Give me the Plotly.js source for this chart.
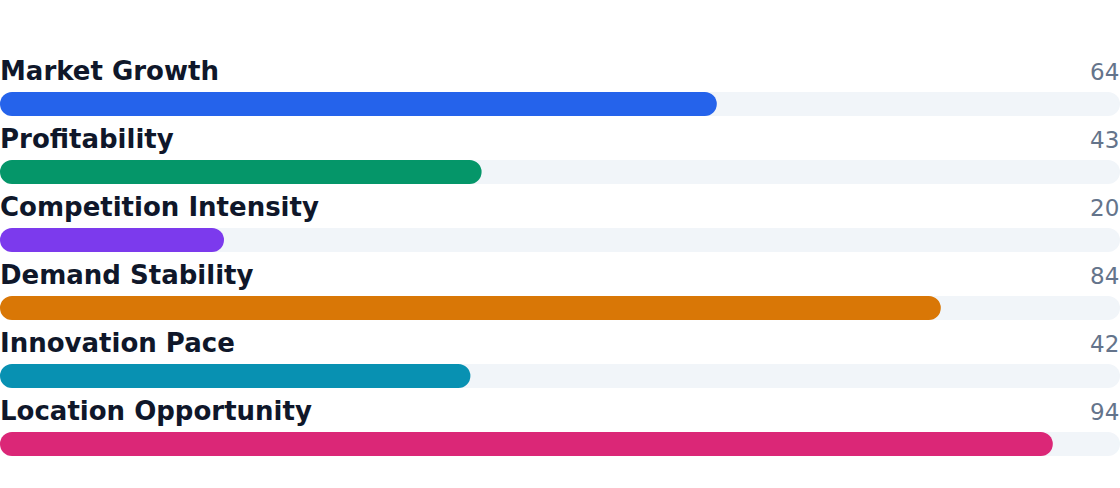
<!DOCTYPE html>
<html>
<head>
<meta charset="utf-8">
<script src="https://cdn.plot.ly/plotly-3.0.1.min.js"></script>
<style>
  html, body { margin: 0; padding: 0; background: #ffffff; }
  #chart { width: 1120px; height: 488px; }
</style>
</head>
<body>
<div id="chart"></div>
<script>
const categories = ['Market Growth', 'Profitability', 'Competition Intensity', 'Demand Stability', 'Innovation Pace', 'Location Opportunity'];
const scores = [64, 43, 20, 84, 42, 94];
const maxScore = 100;
const barColors = ['#2563eb', '#059669', '#7c3aed', '#d97706', '#0891b2', '#db2777'];

const rows = categories.map((_, i) => i);
const barWidth = 0.353;

// an explicit base makes plotly round both ends of the bar
function pill(values, color) {
  return {
    type: 'bar',
    orientation: 'h',
    base: values.map(() => 0),
    x: values,
    y: rows,
    width: barWidth,
    marker: { color: color, cornerradius: 12, line: { width: 0 } },
    hoverinfo: 'skip',
  };
}

const traces = [
  pill(categories.map(() => maxScore), '#f1f5f9'),
  pill(scores, barColors),
];

const labels = categories.map((name, i) => ({
  x: 0, y: i, xref: 'x', yref: 'y',
  text: name, showarrow: false, borderpad: 0,
  xanchor: 'left', yanchor: 'middle', yshift: 33, xshift: -1,
  font: { family: 'DejaVu Sans', size: 26, color: '#0f172a', weight: 'bold' },
}));

const values = scores.map((v, i) => ({
  x: maxScore, y: i, xref: 'x', yref: 'y',
  text: String(v), showarrow: false, borderpad: 0,
  xanchor: 'right', yanchor: 'middle', yshift: 32, xshift: 0,
  font: { family: 'DejaVu Sans', size: 23, color: '#64748b' },
}));

Plotly.newPlot('chart', traces, {
  width: 1120,
  height: 488,
  margin: { l: 0, r: 0, t: 70, b: 10, pad: 0 },
  barmode: 'overlay',
  showlegend: false,
  paper_bgcolor: '#ffffff',
  plot_bgcolor: '#ffffff',
  xaxis: { range: [0, maxScore], visible: false, fixedrange: true },
  yaxis: { range: [rows.length - 0.5, -0.5], visible: false, fixedrange: true },
  annotations: labels.concat(values),
}, { displayModeBar: false, staticPlot: true });
</script>
</body>
</html>
